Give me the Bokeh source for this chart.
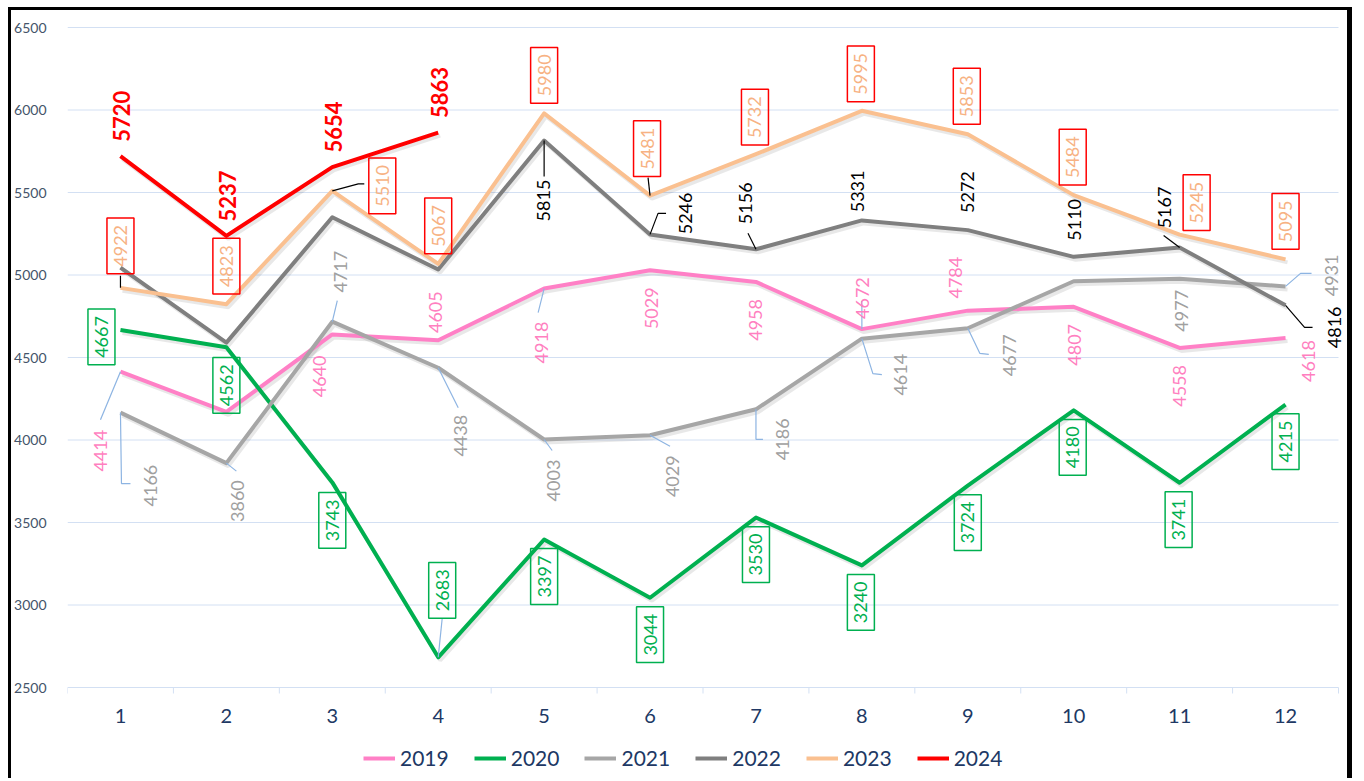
import math
from bokeh.plotting import figure
from bokeh.models import Range1d, FixedTicker, Legend, LegendItem
from bokeh.core.properties import value
from bokeh.embed import file_html
from bokeh.resources import INLINE

# ---------------- data ----------------
months = [1, 2, 3, 4, 5, 6, 7, 8, 9, 10, 11, 12]
yticks = [2500, 3000, 3500, 4000, 4500, 5000, 5500, 6000, 6500]
years = ["2019", "2020", "2021", "2022", "2023", "2024"]

s2019 = [4414, 4170, 4640, 4605, 4918, 5029, 4958, 4672, 4784, 4807, 4558, 4618]
s2020 = [4667, 4562, 3743, 2683, 3397, 3044, 3530, 3240, 3724, 4180, 3741, 4215]
s2021 = [4166, 3860, 4717, 4438, 4003, 4029, 4186, 4614, 4677, 4962, 4977, 4931]
s2022 = [5045, 4590, 5350, 5033, 5815, 5246, 5156, 5331, 5272, 5110, 5167, 4816]
s2023 = [4922, 4823, 5510, 5067, 5980, 5481, 5732, 5995, 5853, 5484, 5245, 5095]
s2024 = [5720, 5237, 5654, 5863]

# ---------------- styling / layout ----------------
FONT = "Lato"
W, H = 1344, 771            # canvas size (inside the black frame)
LEFT = 56                   # plot area left edge (px)
PW = 1271                   # width of the 12 month slots (px)
TOP_PAD = 17                # px above the top gridline
BOT_PAD = 94                # px below the bottom gridline
XPX = PW / 12.0
YPX = (H - TOP_PAD - BOT_PAD) / float(yticks[-1] - yticks[0])

colors = {"2019": "#FF80C6", "2020": "#00B050", "2021": "#A6A6A6",
          "2022": "#7F7F7F", "2023": "#FAC090", "2024": "#FF0000"}
text_colors = {"2019": "#FF7FC0", "2020": "#00B050", "2021": "#A0A0A0",
               "2022": "#000000", "2023": "#F7B283", "2024": "#FF0000"}
box_colors = {"2020": "#00B050", "2023": "#FF0000"}

# label offsets in px (right, up); None = no label
off2019 = [(-20, -79), None, (-13, -42), (-3, 28), (-3, -54), (1, -38), (0, -38),
           (1, 31), (-12, 33), (1, -38), (0, -38), (23, -23)]
off2020 = [(-19, -7), (0, -38), (0, -38), (4, 67), (0, -37), (0, -37), (0, -37),
           (-1, -37), (0, -37), (-1, -37), (-1, -37), (0, -37)]
off2021 = [(30, -73), (11, -38), (8, 50), (22, -68), (9, -41), (22, -41), (27, -30),
           (39, -36), (42, -27), None, (2, -32), (46, 11)]
off2022 = [None, None, None, None, (-1, -60), (35, 21), (-10, 46), (-4, 29),
           (0, 38), (1, 37), (-15, 40), (49, -22)]
off2023 = [(0, 42), (0, 38), (50, 5), (0, 38), (0, 38), (-3, 47), (-1, 37), (-1, 37),
           (-1, 38), (-1, 38), (17, 32), (0, 38)]
off2024 = [(1, 40), (1, 40), (1, 40), (1, 40)]

series = {"2019": s2019, "2020": s2020, "2021": s2021,
          "2022": s2022, "2023": s2023, "2024": s2024}
offsets = {"2019": off2019, "2020": off2020, "2021": off2021,
           "2022": off2022, "2023": off2023, "2024": off2024}

LB = "#8DB4E2"
# leader lines: (year, month index, color, px path relative to point (right, up))
leaders = [
    ("2021", 0, LB, [(0, 0), (1, -71), (10, -71)]),
    ("2021", 1, LB, [(0, 0), (10, -8)]),
    ("2021", 2, LB, [(0, 0), (5, 21)]),
    ("2021", 3, LB, [(0, 0), (20, -40)]),
    ("2021", 4, LB, [(0, 0), (8, -11)]),
    ("2021", 5, LB, [(0, 0), (20, -11)]),
    ("2021", 6, LB, [(0, 0), (0, -30), (7, -30)]),
    ("2021", 7, LB, [(0, 0), (11, -35), (20, -36)]),
    ("2021", 8, LB, [(0, 0), (12, -25), (21, -26)]),
    ("2021", 11, LB, [(0, 0), (15, 13), (26, 13)]),
    ("2019", 0, LB, [(0, 0), (-20, -48)]),
    ("2019", 4, LB, [(0, 0), (-6, -24)]),
    ("2019", 7, LB, [(0, 0), (0, 28)]),
    ("2020", 3, LB, [(0, 0), (4, 39)]),
    ("2022", 4, "#000000", [(0, 0), (0, -36)]),
    ("2022", 5, "#000000", [(0, 0), (8, 21), (16, 21)]),
    ("2022", 6, "#000000", [(0, 0), (-8, 16)]),
    ("2022", 10, "#000000", [(0, 0), (-16, 12)]),
    ("2022", 11, "#000000", [(0, 0), (19, -22), (27, -22)]),
    ("2023", 0, "#000000", [(0, 0), (0, 12)]),
    ("2023", 2, "#000000", [(0, 0), (26, 7), (32, 7)]),
    ("2023", 5, "#000000", [(0, 0), (-2, 18)]),
]

GRID = "#D3E0F3"
x0 = months[0] - 0.5
x1 = months[-1] + 0.5

p = figure(width=W, height=H,
           x_range=Range1d(x0, x0 + (W - LEFT) / XPX),
           y_range=Range1d(yticks[0] - BOT_PAD / YPX, yticks[-1] + TOP_PAD / YPX),
           output_backend="svg", toolbar_location=None, x_axis_location=None,
           min_border_left=LEFT, min_border_right=0,
           min_border_top=0, min_border_bottom=0)
p.outline_line_color = None
p.background_fill_color = "white"
p.border_fill_color = "white"
p.xgrid.grid_line_color = None
p.ygrid.grid_line_color = None
p.styles = {"margin-left": "8px", "margin-top": "7px",
            "border-left": "3px solid black", "border-top": "3px solid black",
            "border-right": "5px solid black"}

# y axis
p.yaxis.ticker = FixedTicker(ticks=yticks)
p.yaxis.axis_line_color = None
p.yaxis.major_tick_line_color = None
p.yaxis.minor_tick_line_color = None
p.yaxis.major_label_text_font = FONT
p.yaxis.major_label_text_font_size = "14px"
p.yaxis.major_label_text_color = "#44546A"
p.yaxis.major_label_standoff = 15

# gridlines (incl. category axis line at the bottom)
p.segment(x0=[x0] * len(yticks), x1=[x1] * len(yticks), y0=yticks, y1=yticks,
          line_color=GRID, line_width=1)
# category boundary ticks
bounds = [m - 0.5 for m in months] + [x1]
p.segment(x0=bounds, x1=bounds, y0=[yticks[0]] * len(bounds),
          y1=[yticks[0] - 6 / YPX] * len(bounds), line_color=GRID, line_width=1)
# category labels
p.text(x=months, y=[yticks[0]] * len(months), text=[str(m) for m in months],
       y_offset=28, text_align="center", text_baseline="middle",
       text_font=value(FONT), text_font_size=value("20px"), text_color="#203864")

# shadows
for y in years:
    vals = series[y]
    xs = [m + 2.0 / XPX for m in months[:len(vals)]]
    ys = [v - 3.0 / YPX for v in vals]
    p.line(xs, ys, line_color="black", line_alpha=0.09, line_width=4)

# lines
renderers = {}
for y in years:
    vals = series[y]
    renderers[y] = p.line(months[:len(vals)], vals, line_color=colors[y],
                          line_width=4, line_join="round")

# leader lines
lx, ly, lc = [], [], []
for (y, i, c, path) in leaders:
    v = series[y][i]
    m = months[i]
    lx.append([m + dx / XPX for dx, dy in path])
    ly.append([v + dy / YPX for dx, dy in path])
    lc.append(c)
p.multi_line(lx, ly, line_color=lc, line_width=1.2)

# data labels
for y in years:
    vals = series[y]
    offs = offsets[y]
    xs, ys, tx, xo, yo = [], [], [], [], []
    for i, v in enumerate(vals):
        if offs[i] is None:
            continue
        xs.append(months[i])
        ys.append(v)
        tx.append(str(v))
        xo.append(offs[i][0])
        yo.append(-offs[i][1])
    kw = dict(angle=math.pi / 2, text_align="center", text_baseline="middle",
              text_font=value(FONT), text_color=text_colors[y])
    if y == "2024":
        kw.update(text_font_size=value("22px"), text_font_style="bold")
    else:
        kw.update(text_font_size=value("18px"))
    if y in box_colors:
        kw.update(border_line_color=box_colors[y], border_line_width=1.5, padding=7)
    p.text(x=xs, y=ys, text=tx, x_offset=xo, y_offset=yo, **kw)

# legend
legend = Legend(items=[LegendItem(label=y, renderers=[renderers[y]]) for y in years],
                orientation="horizontal", location=(296, 11),
                glyph_width=32, glyph_height=20, label_standoff=5, spacing=25,
                padding=0, margin=0, border_line_color=None,
                background_fill_alpha=0,
                label_text_font=FONT, label_text_font_size="21px",
                label_text_color="#203864")
p.add_layout(legend)

open("out.html", "w").write(file_html(p, INLINE))
